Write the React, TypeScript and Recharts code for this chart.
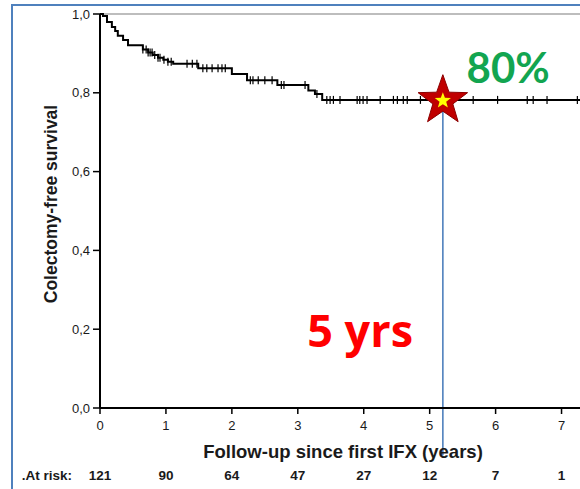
import React from 'react';
import {
  ComposedChart, Line, Scatter, XAxis, YAxis, ReferenceLine, ReferenceDot,
} from 'recharts';

// Kaplan-Meier step points (years, survival)
const times = [0, 0.045, 0.106, 0.18, 0.23, 0.27, 0.35, 0.425, 0.65, 0.73, 0.8, 0.88, 0.96, 1.03, 1.11, 1.49, 2.0, 2.23, 2.69, 3.16, 3.26, 3.37, 7.28];
const survival = [1.0, 0.995, 0.98, 0.967, 0.957, 0.945, 0.934, 0.921, 0.91, 0.902, 0.896, 0.889, 0.884, 0.879, 0.874, 0.862, 0.848, 0.832, 0.82, 0.806, 0.797, 0.782, 0.782];

// censored observations (years)
const censorTimes = [
  0.65, 0.7, 0.73, 0.76, 0.79, 0.83, 0.88, 0.91, 0.97, 1.03, 1.08,
  1.32, 1.4, 1.47, 1.56, 1.62, 1.7, 1.79, 1.85, 1.9,
  2.28, 2.32, 2.4, 2.5, 2.61, 2.75, 2.79, 3.11, 3.29,
  3.44, 3.49, 3.54, 3.64, 3.9, 3.94, 3.99, 4.05, 4.25, 4.45, 4.51, 4.6, 4.66, 4.86,
  5.66, 6.03, 6.48, 6.57, 6.78, 7.24,
];

const xTicks = [0, 1, 2, 3, 4, 5, 6, 7];
const atRisk = [121, 90, 64, 47, 27, 12, 7, 1];
const yTicks = [0, 0.2, 0.4, 0.6, 0.8, 1.0];

const markerYear = 5.2;
const markerSurv = 0.78;

const curveData = times.map((t, i) => ({ t, s: survival[i] }));
const survAt = (t: number) => {
  let s = survival[0];
  for (let i = 0; i < times.length; i++) if (times[i] <= t) s = survival[i];
  return s;
};
const censorData = censorTimes.map((t) => ({ t, s: survAt(t) }));

const FONT = '"Liberation Sans", Arial, sans-serif';

const CensorMark = (p: any) => (
  <line x1={p.cx} x2={p.cx} y1={p.cy - 4} y2={p.cy + 4} stroke="#000" strokeWidth={1.2} />
);

const starPoints = (cx: number, cy: number, R: number, r: number) => {
  const pts: string[] = [];
  for (let i = 0; i < 10; i++) {
    const rad = i % 2 === 0 ? R : r;
    const a = -Math.PI / 2 + (i * Math.PI) / 5;
    pts.push(`${cx + rad * Math.cos(a)},${cy + rad * Math.sin(a)}`);
  }
  return pts.join(' ');
};

const Star = (p: any) => (
  <g>
    <polygon points={starPoints(p.cx, p.cy, 26, 10.5)} fill="#c00000" stroke="#8b0000" strokeWidth={1} />
    <polygon points={starPoints(p.cx, p.cy, 8.5, 3.5)} fill="#ffff00" />
  </g>
);

const XTick = (p: any) => {
  const idx = xTicks.indexOf(p.payload.value);
  return (
    <g>
      <text x={p.x} y={p.y} dy={14} textAnchor="middle" fontFamily={FONT} fontSize={13} fill="#1a1a1a">
        {p.payload.value}
      </text>
      <text x={p.x} y={p.y} dy={64} textAnchor="middle" fontFamily={FONT} fontSize={13.5} fontWeight="bold" fill="#1a1a1a">
        {atRisk[idx]}
      </text>
      {idx === 0 && (
        <text x={p.x - 28} y={p.y} dy={64} textAnchor="end" fontFamily={FONT} fontSize={13.5} fontWeight="bold" fill="#1a1a1a">
          .At risk:
        </text>
      )}
    </g>
  );
};

const TextMark = (txt: string, color: string, family: string, size: number) => (p: any) => (
  <text x={p.cx} y={p.cy} textAnchor="middle" fontFamily={family} fontSize={size} fontWeight="bold" fill={color}>
    {txt}
  </text>
);

export default function App() {
  return (
    <div style={{ position: 'absolute', left: 0, top: 0, width: 580, height: 489, background: '#fff', overflow: 'hidden' }}>
      <div style={{ position: 'absolute', left: 11, top: 4, width: 600, height: 520, borderLeft: '2px solid #4f81bd', borderTop: '2px solid #4f81bd' }} />
      <div style={{ position: 'absolute', left: 0, top: 0 }}>
        <ComposedChart width={580} height={489} margin={{ top: 14, right: 0, bottom: 0, left: 0 }}>
          <XAxis
            type="number"
            dataKey="t"
            domain={[0, 7.28]}
            ticks={xTicks}
            allowDataOverflow
            height={81}
            tickSize={6}
            tickMargin={2}
            tick={<XTick />}
            axisLine={{ stroke: '#000', strokeWidth: 2 }}
            tickLine={{ stroke: '#000', strokeWidth: 1.5 }}
            label={{ value: 'Follow-up since first IFX (years)', position: 'insideBottom', offset: 31, dx: 3, style: { fontFamily: FONT, fontSize: 18.5, fontWeight: 'bold', fill: '#1a1a1a' } }}
          />
          <YAxis
            type="number"
            dataKey="s"
            domain={[0, 1]}
            ticks={yTicks}
            width={100}
            tickSize={7}
            tickMargin={3}
            tickFormatter={(v: number) => v.toFixed(1).replace('.', ',')}
            tick={{ fontFamily: FONT, fontSize: 13, fill: '#1a1a1a' }}
            axisLine={{ stroke: '#000', strokeWidth: 2 }}
            tickLine={{ stroke: '#000', strokeWidth: 1.5 }}
            label={{ value: 'Colectomy-free survival', angle: -90, position: 'center', dx: 1, dy: -7, style: { fontFamily: FONT, fontSize: 17.5, fontWeight: 'bold', fill: '#1a1a1a' } }}
          />
          <ReferenceLine y={1} stroke="#bdbdbd" strokeWidth={2} />
          <Line
            data={curveData}
            dataKey="s"
            type="stepAfter"
            stroke="#000"
            strokeWidth={2}
            dot={false}
            isAnimationActive={false}
          />
          <Scatter data={censorData} dataKey="s" shape={<CensorMark />} isAnimationActive={false} />
          <ReferenceLine
            segment={[{ x: markerYear, y: markerSurv }, { x: markerYear, y: -0.12 }]}
            stroke="#4f81bd"
            strokeWidth={1.6}
            ifOverflow="visible"
          />
          <ReferenceDot x={markerYear} y={markerSurv} r={0} shape={<Star />} ifOverflow="visible" />
          <ReferenceDot x={6.19} y={0.825} r={0} shape={TextMark('80%', '#12a550', 'Lato, sans-serif', 42)} ifOverflow="visible" />
          <ReferenceDot x={3.945} y={0.155} r={0} shape={TextMark('5 yrs', '#ff0000', '"Open Sans", sans-serif', 45)} ifOverflow="visible" />
        </ComposedChart>
      </div>
    </div>
  );
}
